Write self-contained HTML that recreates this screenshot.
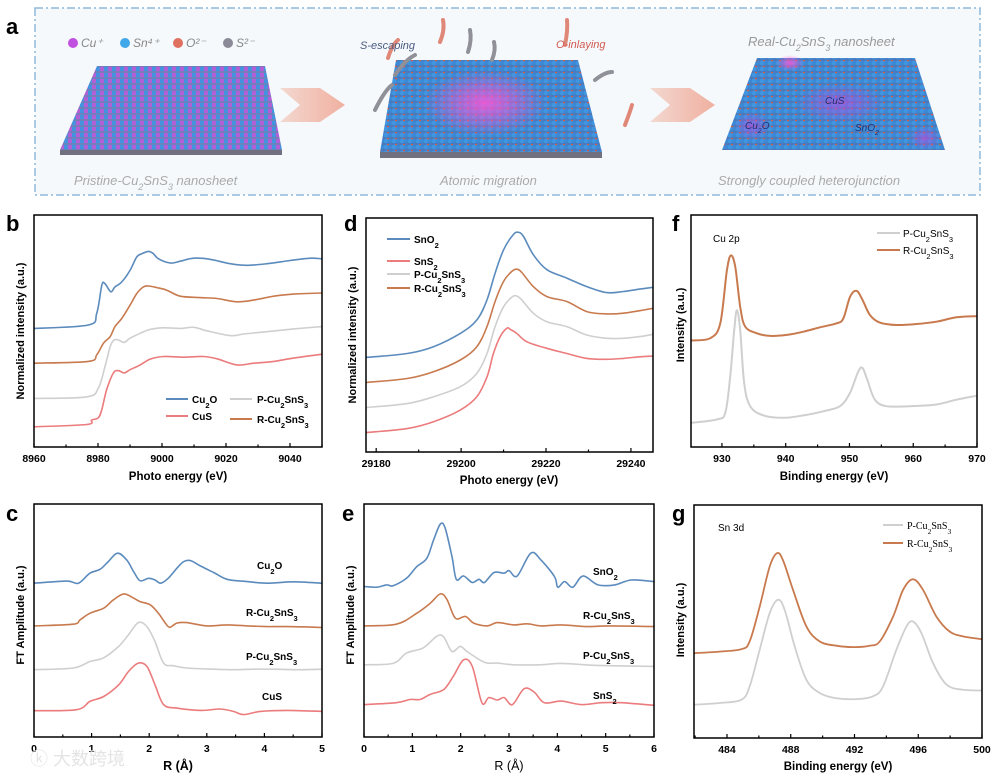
<!DOCTYPE html>
<html><head><meta charset="utf-8">
<style>
html,body{margin:0;padding:0;background:#fff;}
svg{display:block;font-family:"Liberation Sans",Arial,sans-serif;}
</style></head>
<body>
<svg id="fig" width="995" height="776" viewBox="0 0 995 776" xmlns="http://www.w3.org/2000/svg">
<defs>
<pattern id="atoms" width="8" height="6" patternUnits="userSpaceOnUse">
<rect width="8" height="6" fill="#6f7fb8"/>
<circle cx="2" cy="3" r="2.4" fill="#3f95e0"/>
<circle cx="6" cy="3" r="2.4" fill="#b35fd6"/>
</pattern>
<pattern id="atoms2" width="8" height="6" patternUnits="userSpaceOnUse">
<rect width="8" height="6" fill="#4d78b8"/>
<circle cx="2" cy="3" r="2.4" fill="#3f95e0"/>
<circle cx="6" cy="3" r="2.2" fill="#3a8ad8"/>
<circle cx="4" cy="0.5" r="1" fill="#d06050"/>
</pattern>
<radialGradient id="pinkglow"><stop offset="0" stop-color="#ff55d8" stop-opacity="0.85"/><stop offset="1" stop-color="#ff55d8" stop-opacity="0"/></radialGradient>
<radialGradient id="purpglow"><stop offset="0" stop-color="#b050e0" stop-opacity="0.7"/><stop offset="1" stop-color="#b050e0" stop-opacity="0"/></radialGradient>
<linearGradient id="arrowg" x1="0" x2="1"><stop offset="0" stop-color="#f3d8d0"/><stop offset="1" stop-color="#f0b0a0"/></linearGradient>
</defs>

<!-- Panel a -->
<g>
<rect x="35" y="8" width="945" height="187" fill="#f6f9fc" stroke="#8fb8dc" stroke-width="1.5" stroke-dasharray="8,3,2,3"/>
<text x="6" y="34" font-size="22" font-weight="bold">a</text>
<g font-size="12" font-style="italic" fill="#888">
<circle cx="73" cy="43" r="5" fill="#c050e0"/><text x="81" y="47">Cu⁺</text>
<circle cx="125" cy="43" r="5" fill="#40a8e8"/><text x="133" y="47">Sn⁴⁺</text>
<circle cx="178" cy="43" r="5" fill="#e07060"/><text x="186" y="47">O²⁻</text>
<circle cx="228" cy="43" r="5" fill="#8a8a98"/><text x="236" y="47">S²⁻</text>
</g>
<polygon points="97,66 265,66 282,150 60,150" fill="url(#atoms)"/>
<polygon points="60,150 282,150 282,155 60,155" fill="#707080"/>
<polygon points="396,60 578,60 602,152 380,152" fill="url(#atoms2)"/>
<ellipse cx="485" cy="103" rx="62" ry="33" fill="url(#pinkglow)"/>
<polygon points="380,152 602,152 602,158 380,158" fill="#707080"/>
<polygon points="757,58 915,58 945,150 722,150" fill="url(#atoms2)"/>
<ellipse cx="840" cy="103" rx="45" ry="20" fill="url(#purpglow)"/>
<ellipse cx="752" cy="126" rx="18" ry="14" fill="url(#purpglow)"/>
<ellipse cx="925" cy="138" rx="16" ry="12" fill="url(#purpglow)"/>
<ellipse cx="790" cy="63" rx="14" ry="8" fill="url(#pinkglow)"/>
<polygon points="280,88 320,88 345,105 320,122 280,122 300,105" fill="url(#arrowg)"/>
<polygon points="650,88 690,88 715,105 690,122 650,122 670,105" fill="url(#arrowg)"/>
<g stroke-linecap="round" fill="none" stroke-width="4">
<path d="M375,110 Q385,90 392,85" stroke="#909098"/><path d="M468,52 Q472,40 470,30" stroke="#909098"/><path d="M492,60 Q496,50 494,42" stroke="#909098"/>
<path d="M595,80 Q605,72 612,72" stroke="#909098"/><path d="M395,75 Q405,60 415,55" stroke="#909098"/>
<path d="M440,42 Q445,30 443,20" stroke="#e08878"/><path d="M565,45 Q568,30 567,20" stroke="#e08878"/><path d="M388,58 Q392,45 398,40" stroke="#e08878"/><path d="M625,125 Q630,112 632,105" stroke="#e08878"/>
</g>
<text x="360" y="49" font-size="11" font-style="italic" fill="#4a5a80">S-escaping</text>
<text x="556" y="48" font-size="11" font-style="italic" fill="#d05a50">O-inlaying</text>
<text x="748" y="46" font-size="13" font-style="italic" fill="#999">Real-Cu<tspan font-size="9" baseline-shift="sub">2</tspan>SnS<tspan font-size="9" baseline-shift="sub">3</tspan> nanosheet</text>
<text x="825" y="104" font-size="10" font-style="italic" fill="#203070">CuS</text>
<text x="745" y="129" font-size="10" font-style="italic" fill="#203070">Cu<tspan font-size="7" baseline-shift="sub">2</tspan>O</text>
<text x="855" y="131" font-size="10" font-style="italic" fill="#203070">SnO<tspan font-size="7" baseline-shift="sub">2</tspan></text>
<text x="74" y="185" font-size="13" font-style="italic" fill="#aaa">Pristine-Cu<tspan font-size="9" baseline-shift="sub">2</tspan>SnS<tspan font-size="9" baseline-shift="sub">3</tspan> nanosheet</text>
<text x="440" y="185" font-size="13" font-style="italic" fill="#aaa">Atomic migration</text>
<text x="718" y="185" font-size="13" font-style="italic" fill="#aaa">Strongly coupled heterojunction</text>
</g>
<g id="charts"></g>
<text x="30" y="765" font-size="18" fill="#e4e4e4" font-family="'Liberation Sans','Noto Sans CJK SC',sans-serif">ⓚ 大数跨境</text>
</svg>
<script>
// ---- data ----
const bEnergyCu2O=[8960,8977,8979.6,8981.2,8982.2,8984,8985.3,8987.4,8990,8992.1,8993.7,8995.8,8997.3,8998.9,9002.6,9005.7,9009.9,9015,9021.3,9026.5,9032.8,9040.1,9046.4,9050];
const bIntCu2O=[51.1,52.6,57.6,69.7,70.4,66.9,69,71.1,76.1,81.9,83.3,84.3,83.3,81.1,79.3,80.1,81.4,80.9,79,78.3,79,80.4,81.4,81.1];
const bEnergyR=[8960,8977,8979.6,8981.7,8983.8,8985.3,8987.4,8990,8992.1,8994.2,8995.8,8998.4,9001.5,9005.7,9011.9,9017.2,9023.4,9028.6,9034.9,9041.1,9050];
const bIntR=[36.1,36.9,39.7,44.7,47.6,51.9,55.4,61.1,66.1,69,69.4,68.7,67.6,65,64.4,64,62.6,63.3,65,65.9,66.4];
const bEnergyP=[8960,8976.5,8980.1,8982.2,8983.8,8985,8986.4,8988.2,8990,8993.2,8996.3,9000.5,9005.7,9009.9,9014,9021.3,9025.5,9032.8,9041.1,9050];
const bIntP=[20.9,21.6,25.4,34.7,43.3,46.1,46.1,45.1,46.9,49,50.7,51.4,51.1,51.6,50.1,48,48.7,49.7,50.9,51.9];
const bEnergyCuS=[8960,8976.5,8978,8980.1,8981.2,8982.7,8984.8,8986.4,8988.2,8990,8993.2,8996.3,9000.5,9006.7,9013,9017.2,9023.4,9028.6,9034.9,9041.1,9050];
const bIntCuS=[8.7,9.7,11.6,12.6,16.1,24.7,31.9,32.9,31.9,33.3,35.4,37.9,39,38.7,39,38,35.4,36.1,36.9,38.3,40];
const bTicks=[8960,8980,9000,9020,9040];

const dEnergySnO2=[29177.6,29187.3,29193.5,29199.8,29203.7,29206.1,29208,29210,29212.3,29213.5,29214.7,29217,29220.2,29224.9,29229.6,29234.3,29238.2,29242.1,29245.2];
const dIntSnO2=[40.4,42.1,45,50.7,56.4,65,76.4,86.4,92.9,93.9,92.1,84.3,77.9,74.3,70.7,68.1,68.6,69.6,70.4];
const dEnergyR=[29177.6,29187.3,29193.5,29199.8,29203.7,29206.1,29208,29210,29211.9,29213.1,29214.3,29217,29220.2,29224.9,29229.6,29234.3,29238.2,29242.1,29245.2];
const dIntR=[29.7,31.4,34.3,39.3,45,53.6,64.3,72.9,77.1,78.1,76.7,70.7,66.4,64.3,60,59,59.3,60.4,61.4];
const dEnergyP=[29177.6,29187.3,29193.5,29199.8,29203.7,29206.1,29208,29210,29211.9,29213,29214.3,29217,29220.2,29224.9,29229.6,29234.3,29238.2,29242.1,29245.2];
const dIntP=[19,20.7,23.6,27.9,33.6,42.1,53.6,62.1,66.1,66.7,65,59.3,55.7,53.6,50,48.6,48.6,49.3,50.3];
const dEnergySnS2=[29177.6,29187.3,29193.5,29199.8,29203.7,29206.1,29207.6,29209.2,29210.8,29211.6,29213.1,29215.5,29220.2,29224.9,29229.6,29234.3,29238.2,29242.1,29245.2];
const dIntSnS2=[8.3,10,12.9,17.9,23.6,32.1,42.1,49.3,52.9,52.4,50.7,47.1,44.3,42.1,40,39.6,40,40.7,41];
const dTicks=[29180,29200,29220,29240];

const fEnergyR=[925.15,928.17,929.74,930.78,931.41,932.09,932.87,933.65,935.48,937.56,940.17,942.78,945.38,947.99,949.04,950.08,951.12,952.06,953.21,954.77,957.38,960.51,963.64,966.77,970];
const fIntR=[45.9,46.9,53.3,76.1,82.6,77.6,60.4,51.9,49,47.9,48.3,49.7,51.6,53.3,55.4,64.7,67.3,63.3,56.9,53.6,52.6,53,54,55.9,56.4];
const fEnergyP=[925.15,929.22,930.52,931.3,931.93,932.35,932.87,933.49,934.43,936.52,939.65,942.78,945.9,948.51,950.08,951.38,952.06,952.79,953.99,955.81,959.47,963.64,966.77,970];
const fIntP=[10.4,11.9,14.7,30.4,50.4,59,50.4,27.6,17.6,13.6,12.6,13.6,15.4,17.6,23.3,32.6,34,29,20.4,17.6,17.6,18.3,20.4,22.1];
const fTicks=[930,940,950,960,970];

const cRCu2O=[0,0.57,0.77,0.97,1.15,1.29,1.45,1.61,1.73,1.84,1.99,2.1,2.2,2.33,2.48,2.6,2.72,2.89,3.12,3.35,3.7,4.04,4.51,5];
const cIntCu2O=[66,66.9,66,70.3,72,75.3,78.9,76,71,67.1,68.1,67.4,66,68.1,72.4,75.3,75.7,73.4,70.6,67.7,66.7,66,66.6,66];
const cRR=[0,0.68,0.8,0.97,1.21,1.38,1.56,1.73,1.84,2.02,2.16,2.28,2.36,2.48,2.65,3.0,3.35,3.7,4.04,4.39,5];
const cIntR=[47.7,48.4,50.3,53.1,55.3,58.9,61.4,59.6,58.1,56.7,53.1,48.9,47.1,48.9,49.1,47.7,48.1,47.7,47.4,47.4,47];
const cRP=[0,0.68,0.97,1.21,1.47,1.64,1.81,1.96,2.1,2.25,2.42,2.65,3.12,3.46,3.81,4.16,4.62,5];
const cIntP=[28.9,29.6,32.4,34,38.9,43.9,49.1,47.4,41,31.7,30.6,29.6,29.1,28.9,29.1,29.1,28.9,29.1];
const cRCuS=[0,0.74,0.97,1.21,1.47,1.64,1.81,1.96,2.1,2.25,2.48,2.89,3.23,3.46,3.64,3.93,4.39,5];
const cIntCuS=[11.3,11.7,15.3,17.4,22.4,28.1,31.7,30.3,22.4,13.9,12.4,11.4,12,11,9.6,11,11.4,11];
const cTicks=[0,1,2,3,4,5];

const eRSnO2=[0,0.26,0.47,0.6,0.88,1.09,1.3,1.44,1.58,1.68,1.82,1.91,2.06,2.24,2.38,2.49,2.69,2.9,3.0,3.17,3.45,3.66,3.94,4.01,4.15,4.32,4.53,4.84,5.19,5.53,6];
const eIntSnO2=[64.6,64.3,65.3,64.9,68.1,73.1,76.7,84.6,91.4,89.6,77.4,67.7,69.1,66.3,67.7,66.3,70.6,70.3,71.4,69.1,78.9,76,68.9,64.3,66.7,64.3,69.1,65.3,65.3,67.4,66.7];
const eRR=[0,0.67,1.09,1.37,1.58,1.72,1.89,2.1,2.27,2.55,2.76,3.1,3.38,3.66,4.08,4.63,5.05,6];
const eIntR=[47.7,48.4,53.1,57.4,61.4,58.9,51,51.7,48.9,47.7,49.1,48.1,48.6,47.7,48.1,47.4,47.7,47.4];
const eRP=[0,0.6,0.88,1.23,1.51,1.65,1.82,1.99,2.13,2.41,2.55,2.76,3.1,3.66,4.08,4.63,5.05,6];
const eIntP=[31,31.6,36,38.3,43.3,42.9,36.7,38.9,36.7,32.9,31.7,31.7,31,31,31.6,30.9,30.6,30.3];
const eRSnS2=[0,0.67,0.95,1.16,1.37,1.65,1.85,2.06,2.24,2.44,2.58,2.76,2.9,3.07,3.31,3.52,3.73,4.08,4.49,4.91,5.33,6];
const eIntSnS2=[13.9,14.7,16.1,16.1,18.3,20.4,26.1,33.1,30.3,14.7,16.9,15.9,16.9,13.9,20.7,19.3,14.7,15.4,13.9,14.7,14.7,13.6];
const eTicks=[0,1,2,3,4,5,6];

const gEnergyR=[481.93,483.54,484.9,485.42,486.05,486.68,487.14,487.51,488.14,488.98,489.82,490.86,491.91,492.95,493.58,494.42,495.05,495.67,496.3,497.14,497.97,498.81,500];
const gIntR=[36.4,37.1,38.1,41.4,56.4,73.6,79.3,76.4,63.6,47.9,41.4,39.6,39,39.6,41.4,52.1,63.6,68.1,63.6,52.1,45.7,43.6,42.4];
const gEnergyP=[481.93,483.54,484.9,485.42,486.05,486.68,487.2,487.62,488.25,488.98,489.82,490.86,492.12,493.16,493.79,494.63,495.26,495.67,496.2,496.93,497.77,498.81,500];
const gIntP=[14.3,15,16.4,22.1,37.9,53.6,59.3,55,39.3,25,19.3,17.1,16.7,17.9,22.1,37.9,47.9,50,45,32.1,22.9,20.7,20.4];
const gTicks=[484,488,492,496,500];

// ---- drawing ----
const NS="http://www.w3.org/2000/svg";
const root=document.getElementById('charts');
function mk(tag,attrs,parent){const e=document.createElementNS(NS,tag);for(const k in attrs)e.setAttribute(k,attrs[k]);(parent||root).appendChild(e);return e;}
const BLUE="#5b8bbd",ORANGE="#c87a4e",GRAY="#cfcfcf",RED="#eb7b7c";
function smoothPath(pts){
  let d="M"+pts[0][0].toFixed(1)+","+pts[0][1].toFixed(1);
  for(let i=0;i<pts.length-1;i++){
    const p0=pts[Math.max(0,i-1)],p1=pts[i],p2=pts[i+1],p3=pts[Math.min(pts.length-1,i+2)];
    const c1x=p1[0]+(p2[0]-p0[0])/6,c1y=p1[1]+(p2[1]-p0[1])/6;
    const c2x=p2[0]-(p3[0]-p1[0])/6,c2y=p2[1]-(p3[1]-p1[1])/6;
    d+=" C"+c1x.toFixed(1)+","+c1y.toFixed(1)+" "+c2x.toFixed(1)+","+c2y.toFixed(1)+" "+p2[0].toFixed(1)+","+p2[1].toFixed(1);
  }
  return d;
}
function panel(cfg){
  const g=mk('g',{});
  
  
  const L=cfg.box[0],T=cfg.box[1],R=cfg.box[2],B=cfg.box[3];
  const sx=v=>L+(v-cfg.xd[0])/(cfg.xd[1]-cfg.xd[0])*(R-L);
  const sy=v=>B-v/100*(B-T);
  cfg.series.forEach(s=>{
    const pts=s.x.map((xv,i)=>[sx(xv),sy(s.y[i])]);
    const p=mk('path',{d:smoothPath(pts),fill:'none',stroke:s.c,'stroke-width':s.w||1.6,'stroke-linejoin':'round'},g);
    
    
  });
  const fr=mk('rect',{x:L,y:T,width:R-L,height:B-T,fill:'none',stroke:'#000','stroke-width':1.5},g);
  
  
  const step=cfg.ticks[1]-cfg.ticks[0];
  for(let v=cfg.ticks[0]-step;v<=cfg.xd[1]+1e-9;v+=step/2){
    if(v<cfg.xd[0]-1e-9)continue;
    const major=cfg.ticks.some(t=>Math.abs(t-v)<1e-6);
    mk('line',{x1:sx(v),x2:sx(v),y1:B,y2:B-(major?4:2.5),stroke:'#000','stroke-width':1.2},g);
  }
  cfg.ticks.forEach(t=>{
    const tl=mk('text',{x:sx(t),y:B+15,'text-anchor':'middle','font-size':10.5,'font-weight':'bold'},g);
    tl.textContent=t;
    
    
  });
  return {g,sx,sy};
}
function txt(parent,x,y,html,attrs,name){
  const t=mk('text',Object.assign({x:x,y:y,'font-size':11,'font-weight':'bold'},attrs||{}),parent);
  t.innerHTML=html;
  
  
  return t;
}
const sub=s=>'<tspan font-size="7.5" baseline-shift="sub">'+s+'</tspan>';
const CU2SNS3='Cu'+sub('2')+'SnS'+sub('3');
function legLine(parent,x1,x2,y,c,name){const l=mk('line',{x1:x1,x2:x2,y1:y,y2:y,stroke:c,'stroke-width':2},parent);}

// b
let P=panel({name:'panel-b',box:[34,215,322,447],xd:[8960,9050],ticks:bTicks,series:[
 {x:bEnergyCu2O,y:bIntCu2O,c:BLUE,n:'series-cu2o'},{x:bEnergyR,y:bIntR,c:ORANGE,n:'series-r-cu2sns3'},
 {x:bEnergyP,y:bIntP,c:GRAY,n:'series-p-cu2sns3'},{x:bEnergyCuS,y:bIntCuS,c:RED,n:'series-cus'}]});
txt(P.g,6,231,'b',{'font-size':22},'panel-label-b');
txt(P.g,178,480,'Photo energy (eV)',{'text-anchor':'middle','font-size':11.5},'x-axis-title');
txt(P.g,0,0,'Normalized intensity (a.u.)',{'text-anchor':'middle','font-size':11,transform:'translate(24,331) rotate(-90)'},'y-axis-title');
legLine(P.g,166,188,399,BLUE,'legend-cu2o');txt(P.g,192,403,'Cu'+sub('2')+'O',{'font-size':10},'legend-cu2o-label');
legLine(P.g,166,188,416,RED,'legend-cus');txt(P.g,192,420,'CuS',{'font-size':10},'legend-cus-label');
legLine(P.g,230,252,399,GRAY,'legend-p');txt(P.g,257,403,'P-'+CU2SNS3,{'font-size':10},'legend-p-label');
legLine(P.g,230,252,419,ORANGE,'legend-r');txt(P.g,257,423,'R-'+CU2SNS3,{'font-size':10},'legend-r-label');

// d
P=panel({name:'panel-d',box:[366,218,653,452],xd:[29177.6,29245.2],ticks:dTicks,series:[
 {x:dEnergySnO2,y:dIntSnO2,c:BLUE,n:'series-sno2'},{x:dEnergyR,y:dIntR,c:ORANGE,n:'series-r-cu2sns3'},
 {x:dEnergyP,y:dIntP,c:GRAY,n:'series-p-cu2sns3'},{x:dEnergySnS2,y:dIntSnS2,c:RED,n:'series-sns2'}]});
txt(P.g,344,231,'d',{'font-size':22},'panel-label-d');
txt(P.g,509,484,'Photo energy (eV)',{'text-anchor':'middle','font-size':11.5},'x-axis-title');
txt(P.g,0,0,'Normalized intensity (a.u.)',{'text-anchor':'middle','font-size':11,transform:'translate(356,335) rotate(-90)'},'y-axis-title');
[['SnO'+sub('2'),239,BLUE],['SnS'+sub('2'),261,RED],['P-'+CU2SNS3,274,GRAY],['R-'+CU2SNS3,288,ORANGE]].forEach((r,i)=>{
 legLine(P.g,387,410,r[1],r[2],'legend-line');txt(P.g,414,r[1]+4,r[0],{'font-size':10},'legend-label');});

// f
P=panel({name:'panel-f',box:[691,215,977,447],xd:[925.15,970],ticks:fTicks,series:[
 {x:fEnergyR,y:fIntR,c:ORANGE,n:'series-r-cu2sns3',w:2},{x:fEnergyP,y:fIntP,c:GRAY,n:'series-p-cu2sns3',w:2}]});
txt(P.g,672,231,'f',{'font-size':22},'panel-label-f');
txt(P.g,834,480,'Binding energy (eV)',{'text-anchor':'middle','font-size':11.5},'x-axis-title');
txt(P.g,0,0,'Intensity (a.u.)',{'text-anchor':'middle','font-size':11,transform:'translate(684,325) rotate(-90)'},'y-axis-title');
txt(P.g,713,242,'Cu 2p',{'font-size':10,'font-weight':'normal'},'cu2p-label');
legLine(P.g,877,900,233,GRAY,'legend-p');txt(P.g,903,237,'P-'+CU2SNS3,{'font-size':10,'font-weight':'normal'},'legend-p-label');
legLine(P.g,877,900,250,ORANGE,'legend-r');txt(P.g,903,254,'R-'+CU2SNS3,{'font-size':10,'font-weight':'normal'},'legend-r-label');

// c
P=panel({name:'panel-c',box:[34,504,322,737],xd:[0,5],ticks:cTicks,series:[
 {x:cRCu2O,y:cIntCu2O,c:BLUE,n:'series-cu2o'},{x:cRR,y:cIntR,c:ORANGE,n:'series-r-cu2sns3'},
 {x:cRP,y:cIntP,c:GRAY,n:'series-p-cu2sns3'},{x:cRCuS,y:cIntCuS,c:RED,n:'series-cus'}]});
txt(P.g,6,521,'c',{'font-size':22},'panel-label-c');
txt(P.g,178,770,'R (Å)',{'text-anchor':'middle','font-size':12.5},'x-axis-title');
txt(P.g,0,0,'FT Amplitude (a.u.)',{'text-anchor':'middle','font-size':11,transform:'translate(24,615) rotate(-90)'},'y-axis-title');
txt(P.g,257,569,'Cu'+sub('2')+'O',{'font-size':10},'label-cu2o');
txt(P.g,246,616,'R-'+CU2SNS3,{'font-size':10},'label-r');
txt(P.g,246,660,'P-'+CU2SNS3,{'font-size':10},'label-p');
txt(P.g,262,700,'CuS',{'font-size':10},'label-cus');

// e
P=panel({name:'panel-e',box:[364,504,654,737],xd:[0,6],ticks:eTicks,series:[
 {x:eRSnO2,y:eIntSnO2,c:BLUE,n:'series-sno2'},{x:eRR,y:eIntR,c:ORANGE,n:'series-r-cu2sns3'},
 {x:eRP,y:eIntP,c:GRAY,n:'series-p-cu2sns3'},{x:eRSnS2,y:eIntSnS2,c:RED,n:'series-sns2'}]});
txt(P.g,342,521,'e',{'font-size':22},'panel-label-e');
txt(P.g,509,770,'R (Å)',{'text-anchor':'middle','font-size':12.5,'font-weight':'normal'},'x-axis-title');
txt(P.g,0,0,'FT Amplitude (a.u.)',{'text-anchor':'middle','font-size':11,transform:'translate(354,615) rotate(-90)'},'y-axis-title');
txt(P.g,593,575,'SnO'+sub('2'),{'font-size':10},'label-sno2');
txt(P.g,583,619,'R-'+CU2SNS3,{'font-size':10},'label-r');
txt(P.g,583,659,'P-'+CU2SNS3,{'font-size':10},'label-p');
txt(P.g,593,699,'SnS'+sub('2'),{'font-size':10},'label-sns2');

// g
P=panel({name:'panel-g',box:[694,505,982,738],xd:[481.93,500],ticks:gTicks,series:[
 {x:gEnergyR,y:gIntR,c:ORANGE,n:'series-r-cu2sns3',w:1.8},{x:gEnergyP,y:gIntP,c:GRAY,n:'series-p-cu2sns3',w:1.8}]});
txt(P.g,672,521,'g',{'font-size':22},'panel-label-g');
txt(P.g,838,770,'Binding energy (eV)',{'text-anchor':'middle','font-size':11.5},'x-axis-title');
txt(P.g,0,0,'Intensity (a.u.)',{'text-anchor':'middle','font-size':11,transform:'translate(684,620) rotate(-90)'},'y-axis-title');
txt(P.g,718,531,'Sn 3d',{'font-size':10,'font-weight':'normal'},'sn3d-label');
const serif={'font-size':10,'font-weight':'normal','font-family':"'Liberation Serif',serif"};
legLine(P.g,883,903,525,GRAY,'legend-p');txt(P.g,907,529,'P-'+CU2SNS3,serif,'legend-p-label');
legLine(P.g,883,903,543,ORANGE,'legend-r');txt(P.g,907,547,'R-'+CU2SNS3,serif,'legend-r-label');
</script>
</body></html>
